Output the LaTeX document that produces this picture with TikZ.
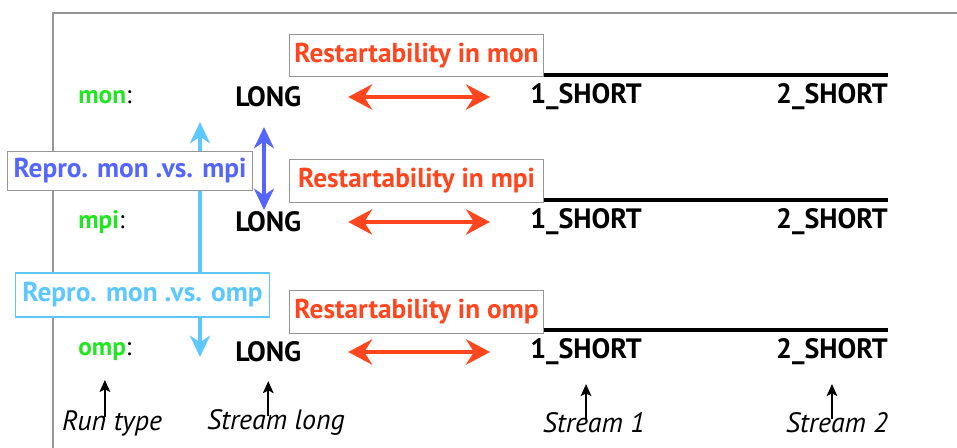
\documentclass[tikz,border=0pt]{standalone}
\usepackage{fontspec}
\setmainfont{PT Sans}
\usepackage{tikz}
\usetikzlibrary{arrows.meta, positioning, calc}
\definecolor{rungreen}{RGB}{34,230,34}
\definecolor{restred}{RGB}{255,70,30}
\definecolor{reprodark}{RGB}{85,102,255}
\definecolor{reprolight}{RGB}{92,200,255}
\definecolor{framegray}{RGB}{150,150,150}
\tikzset{
  runlabel/.style={
    anchor=west, inner sep=0pt, font=\fontsize{19}{21}\selectfont
  },
  streamtext/.style={
    inner sep=0pt, font=\bfseries\fontsize{21}{23}\selectfont
  },
  restbox/.style={
    draw=framegray, line width=0.8pt, fill=white, text=restred,
    font=\bfseries\fontsize{20.5}{22}\selectfont,
    minimum width=190pt, minimum height=32pt, inner sep=2pt
  },
  reprobox/.style={
    draw=framegray, line width=0.8pt, fill=white,
    font=\bfseries\fontsize{20.5}{22}\selectfont,
    minimum height=29pt, inner sep=2pt
  },
  restarrow/.style={
    {Stealth[length=18pt, width=19pt, inset=6pt]}-{Stealth[length=18pt, width=19pt, inset=6pt]},
    line width=3pt, color=restred
  },
  reproarrow/.style={
    {Stealth[length=16pt, width=15pt, inset=5pt]}-{Stealth[length=16pt, width=15pt, inset=5pt]},
    line width=3pt
  },
  streamline/.style={line width=3pt, line cap=butt},
  notearrow/.style={-{Stealth[length=9pt, width=8pt, inset=2pt]}, line width=1.3pt},
  notetext/.style={font=\itshape\fontsize{21}{23}\selectfont, inner sep=0pt},
}

\begin{document}
\begin{tikzpicture}[x=0.75pt, y=-0.75pt]
  \useasboundingbox (0,0) rectangle (957,448);

  % Frame
  \draw[framegray, line width=1.6pt] (957,13) -| (53,448);

  % Run types
  \node[runlabel] (monlbl) at (78,97) {\textbf{\textcolor{rungreen}{mon}}:};
  \node[runlabel] (mpilbl) at (78,222) {\textbf{\textcolor{rungreen}{mpi}}:};
  \node[runlabel] (omplbl) at (78,352) {\textbf{\textcolor{rungreen}{omp}}:};

  % Streams
  \foreach \run/\y in {mon/97, mpi/222, omp/352} {
    \node[streamtext, anchor=west] (\run long) at (235,\y) {LONG};
    \node[streamtext, anchor=west] (\run one) at (530,\y) {1\_SHORT};
    \node[streamtext, anchor=east] (\run two) at (888,\y) {2\_SHORT};
    \draw[streamline] ([yshift=6.5pt]\run one.north west) -- ([yshift=6.5pt]\run two.north east);
    \draw[restarrow, shorten <=35pt, shorten >=30pt] (\run long.east) -- (\run one.west);
  }

  % Restartability
  \node[restbox] (restmon) at (416.5,55.5) {Restartability in mon};
  \node[restbox] (restmpi) at (416.5,181) {Restartability in mpi};
  \node[restbox] (restomp) at (416.5,312) {Restartability in omp};

  % Reproducibility
  \coordinate (omptop) at (200,122);
  \coordinate (ompbot) at (200,357);
  \draw[reproarrow, reprolight] (omptop) -- (ompbot);
  \coordinate (mpitop) at (264,127);
  \coordinate (mpibot) at (264,210);
  \draw[reproarrow, reprodark] (mpitop) -- (mpibot);
  \node[reprobox, text=reprodark, minimum width=184pt] (repmpi) at (130,171) {Repro. mon .vs. mpi};
  \node[reprobox, draw=reprolight, text=reprolight, minimum width=191pt, minimum height=33pt] (repomp) at (142.5,295) {Repro. mon .vs. omp};

  % Annotations
  \node[notetext] (runtype) at (112,423) {Run type};
  \node[notetext] (strlong) at (276,423) {Stream long};
  \node[notetext] (strone) at (594,423) {Stream 1};
  \node[notetext] (strtwo) at (837,423) {Stream 2};
  \foreach \note/\tgt in {runtype/omplbl, strlong/omplong, strone/ompone, strtwo/omptwo}
    \draw[notearrow, shorten <=-5pt, shorten >=14pt] (\note.north -| \tgt.south) -- (\tgt.south);
\end{tikzpicture}
\end{document}
